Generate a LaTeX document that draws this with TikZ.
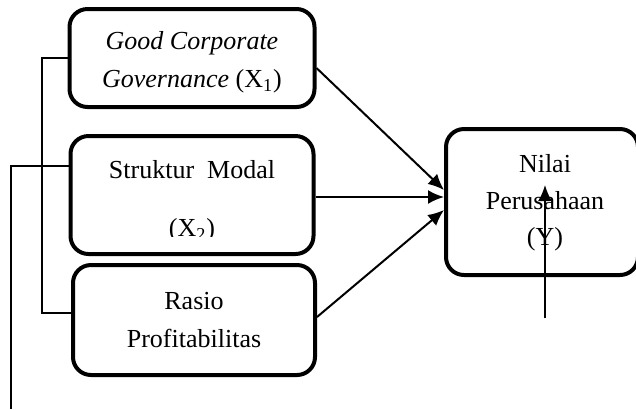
\documentclass[tikz,border=0pt]{standalone}
\usepackage{fontspec}
\setmainfont{Liberation Serif}
\usetikzlibrary{arrows.meta}
\tikzset{
  varbox/.style={draw,line width=2pt,rounded corners=9pt,inner sep=0pt},
  lbl/.style={align=center,font=\fontsize{13}{19}\selectfont},
}
\begin{document}
\begin{tikzpicture}[x=0.5pt,y=-0.5pt,>={Latex[length=8pt,width=7pt]}]
            \useasboundingbox (0,0) rectangle (636,409);
            \node[varbox,minimum width=122.5pt,minimum height=49pt] (gcg) at (192,58) {};
            \node[lbl] (gcgtxt) at (192,62) {\textit{Good Corporate}\\\textit{Governance} (X\textsubscript{1})};
            \node[varbox,minimum width=121.5pt,minimum height=59pt] (sm) at (192,195) {};
            \begin{scope}
              \clip (70,130) rectangle (315,236);
              \node[lbl] (smtxt) at (192,201) {Struktur\ \ Modal\\[10pt](X\textsubscript{2})};
            \end{scope}
            \node[varbox,minimum width=121pt,minimum height=55pt,lbl] (rp) at (194,320) {Rasio\\Profitabilitas};
            \node[varbox,minimum width=96pt,minimum height=73pt] (nilai) at (542,202) {};
            \node[lbl,font=\fontsize{13}{18.3}\selectfont] (nilaitxt) at (545,203) {Nilai\\Perusahaan\\(Y)};
            % garis kiri
            \draw[line width=1pt] (gcg.west) -- ++(-26,0) |- ([yshift=3.5pt]rp.west);
            \coordinate (bawah) at (11,409);
            \draw[line width=1pt] ([yshift=14.5pt]sm.west) -| (bawah);
            % panah ke Y
            \draw[->,line width=1pt] ([yshift=-5pt]gcg.east) -- ([yshift=6pt]nilai.west);
            \draw[->,line width=1pt] ([yshift=-1pt]sm.east) -- ([yshift=2.5pt]nilai.west);
            \draw[->,line width=1pt] ([yshift=1.5pt]rp.east) -- ([yshift=-4pt]nilai.west);
            \coordinate (epsbawah) at (545,318);
            \coordinate (epsatas) at (545,185);
            \draw[->,line width=1pt] (epsbawah) -- (epsatas);
        \end{tikzpicture}
\end{document}
